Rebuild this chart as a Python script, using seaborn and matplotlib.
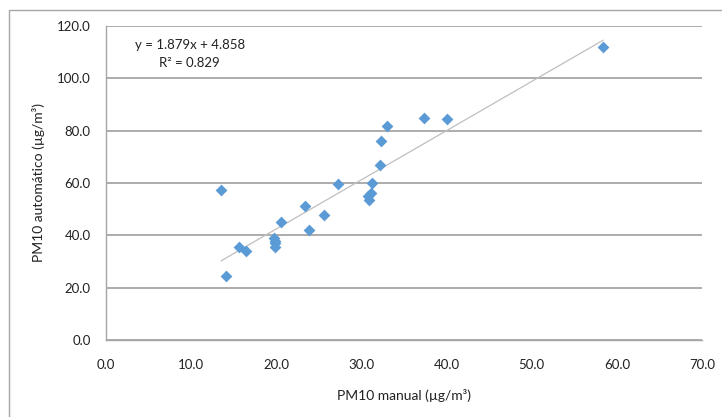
import numpy as np
import pandas as pd
import matplotlib
matplotlib.use("Agg")
import matplotlib.pyplot as plt
import seaborn as sns
from matplotlib.patches import Rectangle

# PM10 manual vs automatic (ug/m3)
pm_manual = [13.5, 14.1, 15.6, 16.4, 19.7, 19.9, 19.9, 19.8, 20.6, 23.4, 23.9,
             25.6, 27.2, 31.3, 31.1, 30.8, 30.9, 32.2, 32.3, 33.0, 37.3, 40.1, 58.4]
pm_auto = [57.4, 24.3, 35.6, 33.9, 39.0, 37.9, 36.9, 35.7, 45.1, 51.3, 42.0,
           47.7, 59.7, 60.1, 56.2, 55.2, 53.4, 66.9, 76.1, 81.8, 84.9, 84.5, 112.1]

# trendline as printed on the chart
slope = 1.879
intercept = 4.858
r2 = 0.829

df = pd.DataFrame({"manual": pm_manual, "auto": pm_auto})

sns.set_style("white")
plt.rcParams['font.family'] = ['Lato', 'DejaVu Sans']

fig = plt.figure(figsize=(7.22, 4.17), dpi=100)
W, H = 722, 417
ax = fig.add_axes([106 / W, 1 - 340 / H, (702 - 106) / W, (340 - 26) / H])

# outer chart frame (cropped on right/bottom)
fig.patches.append(Rectangle((9 / W, -0.1), 1.2, 1 - 10 / H + 0.1,
                             transform=fig.transFigure, fill=False,
                             edgecolor='#A6A6A6', linewidth=1.0))

# trendline
xs = np.array([min(pm_manual), max(pm_manual)])
ax.plot(xs, slope * xs + intercept, color='#BFBFBF', linewidth=0.9, zorder=2)

sns.scatterplot(data=df, x="manual", y="auto", ax=ax, marker='D', s=36,
                color='#5B9BD5', edgecolor='#5B9BD5', linewidth=0, zorder=3)

ax.set_xlim(0, 70)
ax.set_ylim(0, 120)
ax.set_xticks(np.arange(0, 71, 10))
ax.set_yticks(np.arange(0, 121, 20))
ax.set_xticklabels([f"{v:.1f}" for v in np.arange(0, 71, 10)])
ax.set_yticklabels([f"{v:.1f}" for v in np.arange(0, 121, 20)])

ax.grid(axis='y', color='#A6A6A6', linewidth=1.3)
ax.grid(axis='x', visible=False)
ax.set_axisbelow(True)
for side in ['top', 'right']:
    ax.spines[side].set_visible(False)
for side in ['left', 'bottom']:
    ax.spines[side].set_color('#A6A6A6')
    ax.spines[side].set_linewidth(1.0)

ax.tick_params(axis='x', direction='inout', length=6, width=1,
               labelsize=9.5, pad=11, labelcolor='#222222', color='#A6A6A6')
ax.tick_params(axis='y', direction='out', length=4, width=1,
               labelsize=9.5, pad=7, labelcolor='#222222', color='#A6A6A6')

ax.set_xlabel("PM10 manual (µg/m³)", fontsize=10, color='#222222')
ax.set_ylabel("PM10 automático (µg/m³)", fontsize=10, color='#222222')
ax.xaxis.set_label_coords((404 - 106) / 596, (340 - 395) / 314)
ax.yaxis.set_label_coords((38 - 106) / 596, 0.5)
ax.yaxis.label.set_va('center')
ax.xaxis.label.set_va('center')

fig.text(135 / W, 1 - 45 / H, f"y = {slope:.3f}x + {intercept:.3f}",
         fontsize=9.5, color='#222222', va='center', ha='left')
fig.text(159 / W, 1 - 63 / H, f"R² = {r2:.3f}",
         fontsize=9.5, color='#222222', va='center', ha='left')

fig.savefig("out.png", dpi=100)
